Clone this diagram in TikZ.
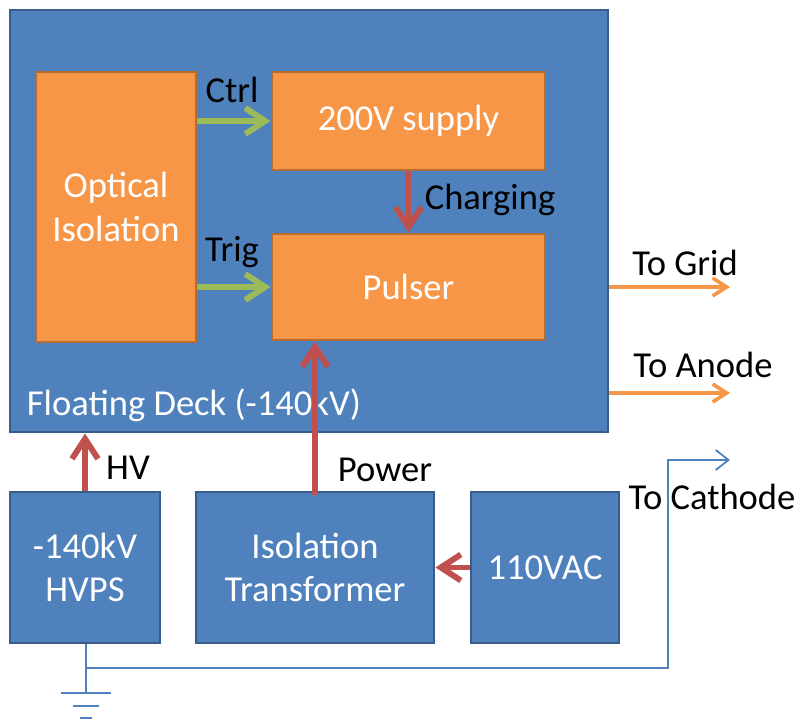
\documentclass[tikz,border=0pt]{standalone}
\usepackage{fontspec}
\setmainfont{Carlito}
\usetikzlibrary{arrows.meta,positioning}
\definecolor{deckblue}{RGB}{79,129,189}
\definecolor{deckedge}{RGB}{56,93,138}
\definecolor{unitorange}{RGB}{247,150,70}
\definecolor{unitedge}{RGB}{182,109,49}
\definecolor{ctrlgreen}{RGB}{155,187,89}
\definecolor{powerred}{RGB}{192,80,77}
\tikzset{
  bluebox/.style={draw=deckedge,fill=deckblue,line width=2pt,inner sep=0pt,text=white,align=center},
  orangebox/.style={draw=unitedge,fill=unitorange,line width=2pt,inner sep=0pt,text=white,align=center},
  ctrlarrow/.style={ctrlgreen,line width=4.2pt,-{Straight Barb[length=5mm,width=6.5mm]}},
  powerarrow/.style={powerred,line width=4.2pt,-{Straight Barb[length=5mm,width=6.5mm]}},
  outarrow/.style={unitorange,line width=2.6pt,-{Straight Barb[length=3.5mm,width=4.5mm]}},
  wirearrow/.style={deckblue,line width=1.3pt,-{Straight Barb[length=3.2mm,width=5mm]}},
  wire/.style={deckblue,line width=1.3pt},
}
\begin{document}
\begin{tikzpicture}[x=1cm,y=-1cm,font=\fontsize{26}{31}\selectfont]
  \useasboundingbox (0,0) rectangle (20,18.025);
  % floating deck and its units
  \node[bluebox,minimum width=14.95cm,minimum height=10.55cm] (deck) at (7.725,5.525) {};
  \node[orangebox,minimum width=4cm,minimum height=6.75cm] (opto) at (2.9,5.175) {Optical\\Isolation};
  \node[orangebox,minimum width=6.825cm,minimum height=2.45cm] (supply) at (10.2125,3.025) {200V supply};
  \node[orangebox,minimum width=6.825cm,minimum height=2.65cm] (pulser) at (10.2125,7.175) {Pulser};
  \node[text=white,anchor=west] (decklabel) at (0.55,10.125) {Floating Deck (-140kV)};
  % ground level units
  \node[bluebox,minimum width=3.75cm,minimum height=3.775cm] (hvps) at (2.125,14.1875) {-140kV\\HVPS};
  \node[bluebox,minimum width=5.95cm,minimum height=3.775cm] (xfmr) at (7.875,14.1875) {Isolation\\Transformer};
  \node[bluebox,minimum width=3.7cm,minimum height=3.775cm] (vac) at (13.625,14.1875) {110VAC};
  % signals inside the deck
  \draw[ctrlarrow] (opto.east |- supply.west) -- (supply.west);
  \draw[ctrlarrow] (opto.east |- pulser.west) -- (pulser.west);
  \draw[powerarrow] (supply.south) -- (pulser.north);
  \node (ctrl) at (5.8,2.25) {Ctrl};
  \node (trig) at (5.8,6.3) {Trig};
  \node (charging) at (12.25,5.0) {Charging};
  % supplies
  \draw[powerarrow] (hvps.north) -- (hvps.north |- deck.south);
  \draw[powerarrow] (xfmr.north) ++(0,0.1) -- (xfmr.north |- pulser.south);
  \draw[powerarrow] (vac.west) -- (xfmr.east);
  \node (hv) at (3.2,11.7) {HV};
  \node (power) at (9.625,11.75) {Power};
  % outputs
  \coordinate (grid) at (18.25,7.175);
  \coordinate (anode) at (18.25,9.825);
  \draw[outarrow] (deck.east |- grid) -- (grid);
  \draw[outarrow] (deck.east |- anode) -- (anode);
  \node (gridlabel) at (17.125,6.575) {To Grid};
  \node (anodelabel) at (17.575,9.125) {To Anode};
  % cathode return and ground
  \coordinate (gnd) at (2.15,17.325);
  \coordinate (junction) at (2.15,16.7);
  \coordinate (cathode) at (18.25,11.5);
  \draw[wire] (hvps.south -| gnd) -- (gnd);
  \draw[wirearrow] (junction) -| (16.7,11.5) -- (cathode);
  \draw[wire,line width=2pt] (1.525,17.325) -- (2.775,17.325);
  \draw[wire,line width=2pt] (1.825,17.65) -- (2.475,17.65);
  \draw[wire,line width=2pt] (1.99,17.95) -- (2.31,17.95);
  \node (cathodelabel) at (17.8,12.425) {To Cathode};
\end{tikzpicture}
\end{document}
